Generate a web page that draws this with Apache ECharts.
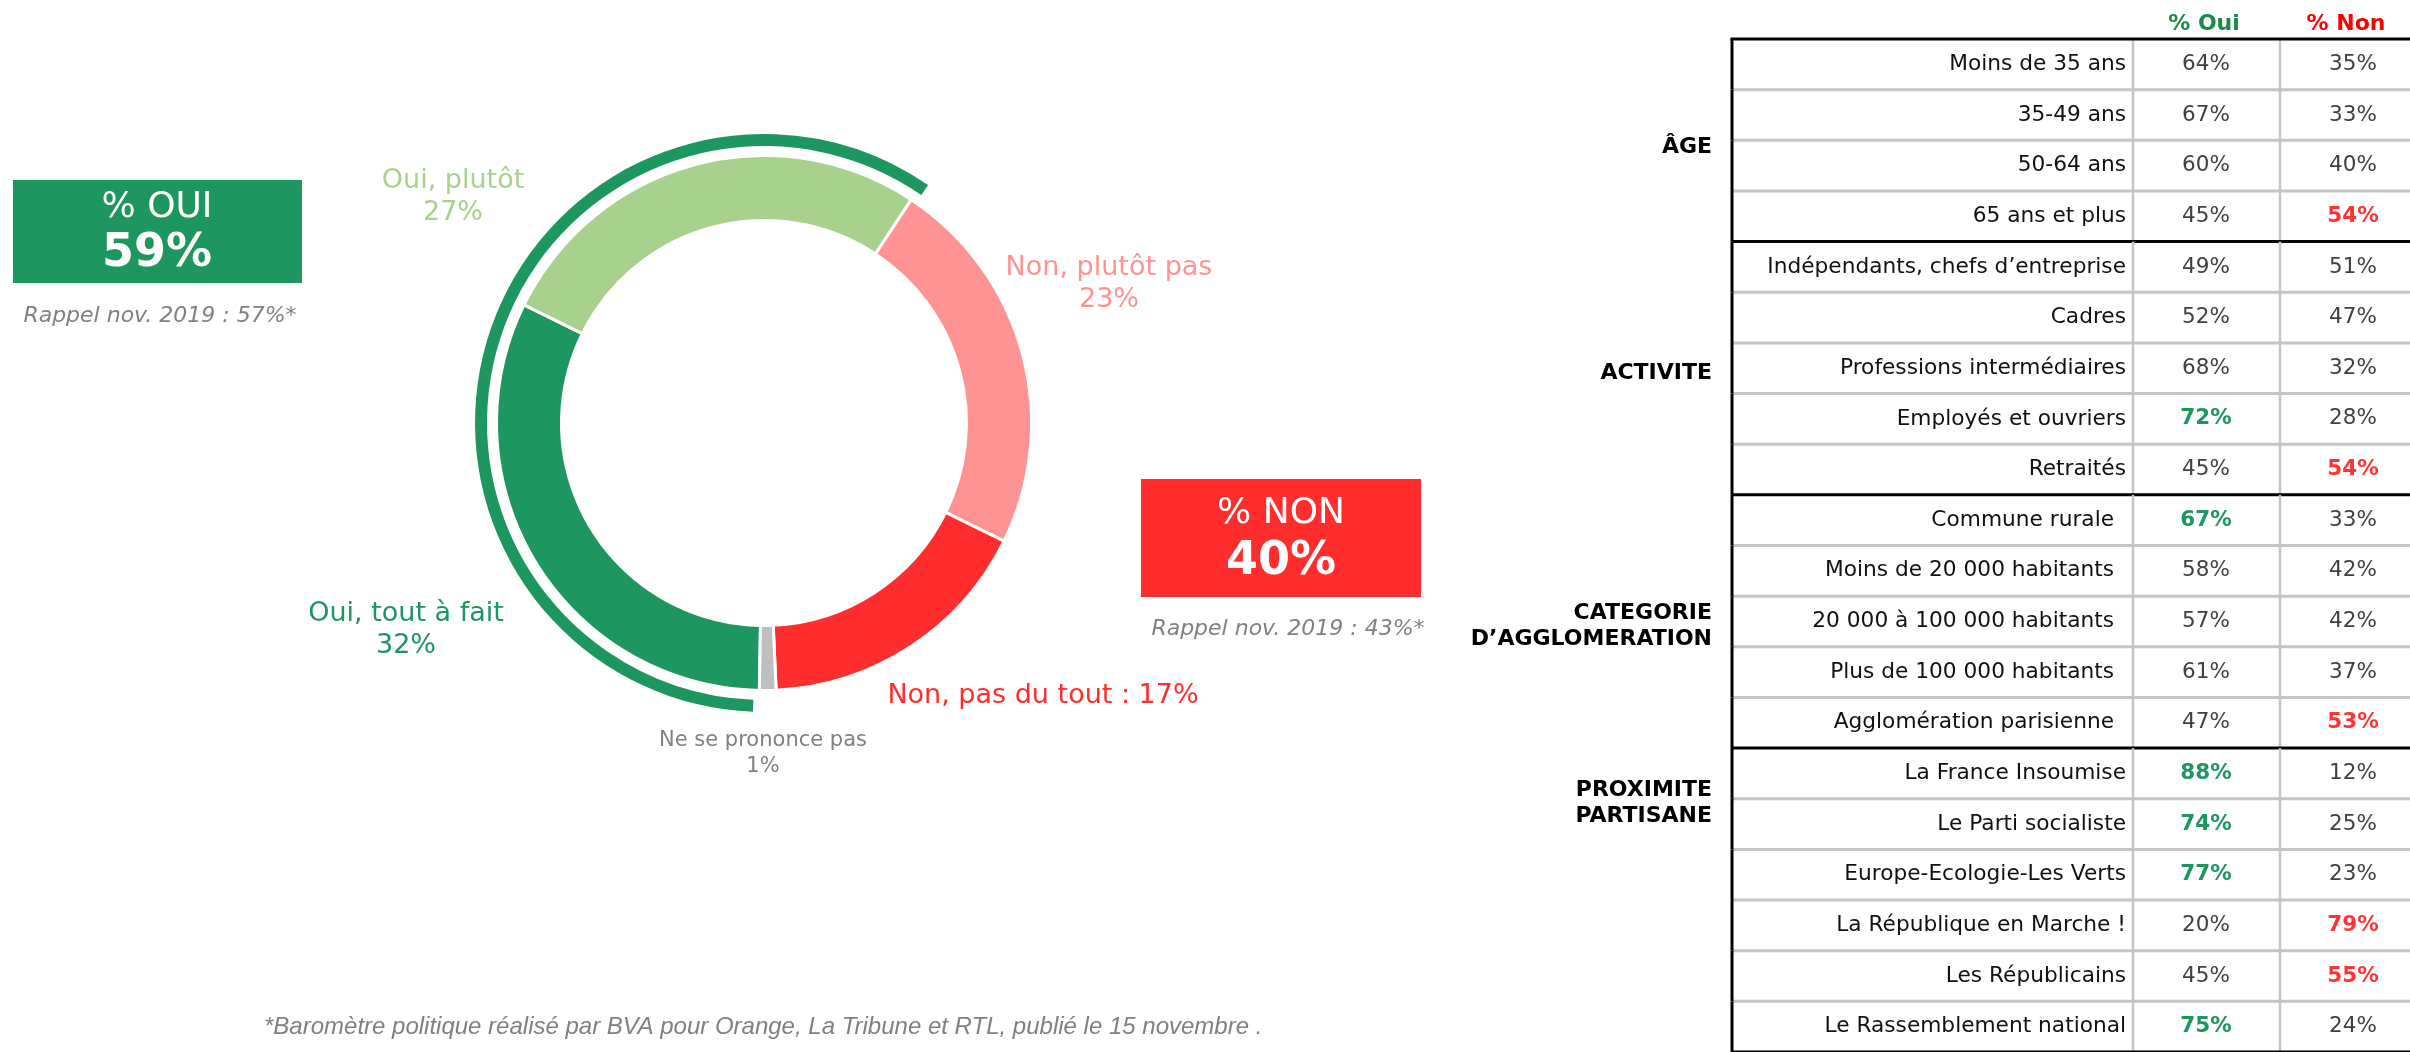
<!DOCTYPE html>
<html><head><meta charset="utf-8">
<script src="https://cdn.jsdelivr.net/npm/echarts@6.0.0/dist/echarts.min.js"></script>
<style>html,body{margin:0;padding:0;background:#fff}#chart{width:2410px;height:1052px}</style>
</head><body><div id="chart"></div>
<script>
// ---------- DATA ----------
const answerNames = ['Oui, tout à fait', 'Oui, plutôt', 'Non, plutôt pas', 'Non, pas du tout', 'Ne se prononce pas'];
const answerValues = [32, 27, 23, 17, 1];
const summaryLabels = ['% OUI', '% NON'];
const summaryValues = [59, 40];
const recallValues = [57, 43];
const recallText = 'Rappel nov. 2019 : ';
const headerLabels = ['% Oui', '% Non'];
const groupNames = ['ÂGE', 'ACTIVITE', 'CATEGORIE\nD’AGGLOMERATION', 'PROXIMITE\nPARTISANE'];
const groupSizes = [4, 5, 5, 6];
const rowLabels = [
  'Moins de 35 ans', '35-49 ans', '50-64 ans', '65 ans et plus',
  'Indépendants, chefs d’entreprise', 'Cadres', 'Professions intermédiaires', 'Employés et ouvriers', 'Retraités',
  'Commune rurale', 'Moins de 20 000 habitants', '20 000 à 100 000 habitants', 'Plus de 100 000 habitants', 'Agglomération parisienne',
  'La France Insoumise', 'Le Parti socialiste', 'Europe-Ecologie-Les Verts', 'La République en Marche !', 'Les Républicains', 'Le Rassemblement national'
];
const ouiValues = [64, 67, 60, 45, 49, 52, 68, 72, 45, 67, 58, 57, 61, 47, 88, 74, 77, 20, 45, 75];
const nonValues = [35, 33, 40, 54, 51, 47, 32, 28, 54, 33, 42, 42, 37, 53, 12, 25, 23, 79, 55, 24];
const ouiHighlighted = [false, false, false, false, false, false, false, true, false, true, false, false, false, false, true, true, true, false, false, true];
const nonHighlighted = [false, false, false, true, false, false, false, false, true, false, false, false, false, true, false, false, false, true, true, false];
const footnote = '*Baromètre politique réalisé par BVA pour Orange, La Tribune et RTL, publié le 15 novembre .';

// ---------- STYLE ----------
const FONT = '"DejaVu Sans", Verdana, sans-serif';
const C_DKGREEN = '#1D9660', C_LTGREEN = '#A9D18E', C_PINK = '#FF9393', C_RED = '#FF2D2D', C_GREY = '#BFBFBF';
const answerColors = [C_DKGREEN, C_LTGREEN, C_PINK, C_RED, C_GREY];
const labelColors = [C_DKGREEN, C_LTGREEN, C_PINK, C_RED, '#808080'];
const LABEL_POS = [[406, 630], [453, 197], [1109, 284], [1043, 696], [763, 754]];
const CENTER = [764, 423];

// table geometry (axis units = px from table left)
const T_LEFT = 1732, T_TOP = 39, ROW_H = 50.7, T_W = 678;
const LABEL_RIGHT = 394, SEP1 = 401, SEP2 = 548, OUI_C = 474, NON_C = 621;
const GROUP_PAD = [0, 0, 12, 0];
const GROUP_LABEL_ROW = [2, 2.5, 2.5, 1];
const GROUP_LABEL_SHIFT = [7, 5, 5, 5];

const groupOfRow = [], groupStart = [], groupEnd = [];
let acc = 0;
groupSizes.forEach((n, g) => { groupStart.push(acc); for (let k = 0; k < n; k++) groupOfRow.push(g); acc += n; groupEnd.push(acc - 1); });

function renderRow(params, api) {
  const i = api.value(0);
  const c = api.coord([0, i]);
  const h = api.size([0, 1])[1];
  const yTop = c[1] - h / 2, yBot = c[1] + h / 2, yMid = c[1];
  const X = v => api.coord([v, i])[0];
  const g = groupOfRow[i];
  const ch = [];
  [SEP1, SEP2].forEach(s => ch.push({ type: 'line', shape: { x1: X(s), y1: yTop, x2: X(s), y2: yBot }, style: { stroke: '#C4C4C4', lineWidth: 2.5 } }));
  const isEnd = groupEnd.indexOf(i) >= 0;
  ch.push({ type: 'line', shape: { x1: X(0), y1: yBot, x2: X(T_W), y2: yBot }, style: isEnd ? { stroke: '#000', lineWidth: 3 } : { stroke: '#C4C4C4', lineWidth: 3 } });
  ch.push({ type: 'line', shape: { x1: X(0), y1: yTop, x2: X(0), y2: yBot }, style: { stroke: '#000', lineWidth: 3 } });
  if (i === 0) {
    ch.push({ type: 'line', shape: { x1: X(-1.5), y1: yTop, x2: X(T_W), y2: yTop }, style: { stroke: '#000', lineWidth: 3 } });
    ch.push({ type: 'text', x: X(OUI_C - 2), y: yTop - 15, style: { text: headerLabels[0], fill: '#1A8A45', font: 'bold 22px ' + FONT, align: 'center', verticalAlign: 'middle' } });
    ch.push({ type: 'text', x: X(NON_C - 7), y: yTop - 15, style: { text: headerLabels[1], fill: '#FF0000', font: 'bold 22px ' + FONT, align: 'center', verticalAlign: 'middle' } });
  }
  if (groupStart[g] === i) {
    ch.push({ type: 'text', x: X(-20), y: yTop + GROUP_LABEL_ROW[g] * h + GROUP_LABEL_SHIFT[g], style: { text: groupNames[g], fill: '#000', font: 'bold 22px ' + FONT, align: 'right', verticalAlign: 'middle', lineHeight: 26 } });
  }
  ch.push({ type: 'text', x: X(LABEL_RIGHT - GROUP_PAD[g]), y: yMid, style: { text: rowLabels[i], fill: '#111', font: '21.7px ' + FONT, align: 'right', verticalAlign: 'middle' } });
  ch.push({ type: 'text', x: X(OUI_C), y: yMid, style: { text: ouiValues[i] + '%', fill: ouiHighlighted[i] ? C_DKGREEN : '#404040', font: (ouiHighlighted[i] ? 'bold ' : '') + '21.5px ' + FONT, align: 'center', verticalAlign: 'middle' } });
  ch.push({ type: 'text', x: X(NON_C), y: yMid, style: { text: nonValues[i] + '%', fill: nonHighlighted[i] ? '#FF3333' : '#404040', font: (nonHighlighted[i] ? 'bold ' : '') + '21.5px ' + FONT, align: 'center', verticalAlign: 'middle' } });
  return { type: 'group', children: ch };
}

const chart = echarts.init(document.getElementById('chart'), null, { renderer: 'canvas' });

const pieData = answerNames.map((n, i) => ({
  name: n, value: answerValues[i],
  itemStyle: { color: answerColors[i] },
  label: i === 4 ? { color: labelColors[i], fontSize: 21, lineHeight: 26 } : { color: labelColors[i], fontSize: 27, lineHeight: 32 }
}));

const ouiTotal = summaryValues[0];

const option = {
  backgroundColor: '#fff',
  animation: false,
  grid: { left: T_LEFT, top: T_TOP, width: T_W, height: ROW_H * rowLabels.length },
  xAxis: { type: 'value', min: 0, max: T_W, show: false },
  yAxis: { type: 'category', data: rowLabels, inverse: true, show: false },
  series: [
    {
      type: 'pie', center: CENTER, radius: [202.5, 267.5], startAngle: 269, clockwise: true,
      avoidLabelOverlap: false, silent: true,
      itemStyle: { borderColor: '#fff', borderWidth: 3 },
      label: {
        show: true, position: 'outside', fontFamily: FONT,
        formatter: p => p.dataIndex === 3 ? p.name + ' : ' + p.value + '%' : p.name + '\n' + p.value + '%'
      },
      labelLine: { show: false },
      labelLayout: p => ({ x: LABEL_POS[p.dataIndex][0], y: LABEL_POS[p.dataIndex][1], align: 'center', verticalAlign: 'middle' }),
      data: pieData
    },
    {
      type: 'pie', center: CENTER, radius: [277, 289], startAngle: 267.8, clockwise: true, silent: true,
      label: { show: false }, labelLine: { show: false },
      data: [
        { name: 'Oui', value: ouiTotal, itemStyle: { color: C_DKGREEN } },
        { name: 'reste', value: 100 - ouiTotal, itemStyle: { color: 'rgba(0,0,0,0)' } }
      ]
    },
    {
      type: 'custom', coordinateSystem: 'cartesian2d', silent: true, clip: false,
      renderItem: renderRow,
      data: rowLabels.map((_, i) => [i])
    }
  ],
  graphic: [
    { type: 'rect', shape: { x: 13, y: 180, width: 289, height: 103 }, style: { fill: C_DKGREEN } },
    { type: 'text', x: 157, y: 208, style: { text: summaryLabels[0], fill: '#fff', font: '36px ' + FONT, align: 'center', verticalAlign: 'middle' } },
    { type: 'text', x: 157, y: 254, style: { text: summaryValues[0] + '%', fill: '#fff', font: 'bold 46px ' + FONT, align: 'center', verticalAlign: 'middle' } },
    { type: 'text', x: 160, y: 316, style: { text: recallText + recallValues[0] + '%*', fill: '#808080', font: 'italic 22px ' + FONT, align: 'center', verticalAlign: 'middle' } },
    { type: 'rect', shape: { x: 1141, y: 479, width: 280, height: 118 }, style: { fill: C_RED } },
    { type: 'text', x: 1281, y: 514, style: { text: summaryLabels[1], fill: '#fff', font: '36px ' + FONT, align: 'center', verticalAlign: 'middle' } },
    { type: 'text', x: 1281, y: 562, style: { text: summaryValues[1] + '%', fill: '#fff', font: 'bold 46px ' + FONT, align: 'center', verticalAlign: 'middle' } },
    { type: 'text', x: 1288, y: 629, style: { text: recallText + recallValues[1] + '%*', fill: '#808080', font: 'italic 22px ' + FONT, align: 'center', verticalAlign: 'middle' } },
    { type: 'text', x: 264, y: 1027, style: { text: footnote, fill: '#808080', font: 'italic 24px "Liberation Sans", Arial, sans-serif', align: 'left', verticalAlign: 'middle' } }
  ]
};
chart.setOption(option);
</script></body></html>
